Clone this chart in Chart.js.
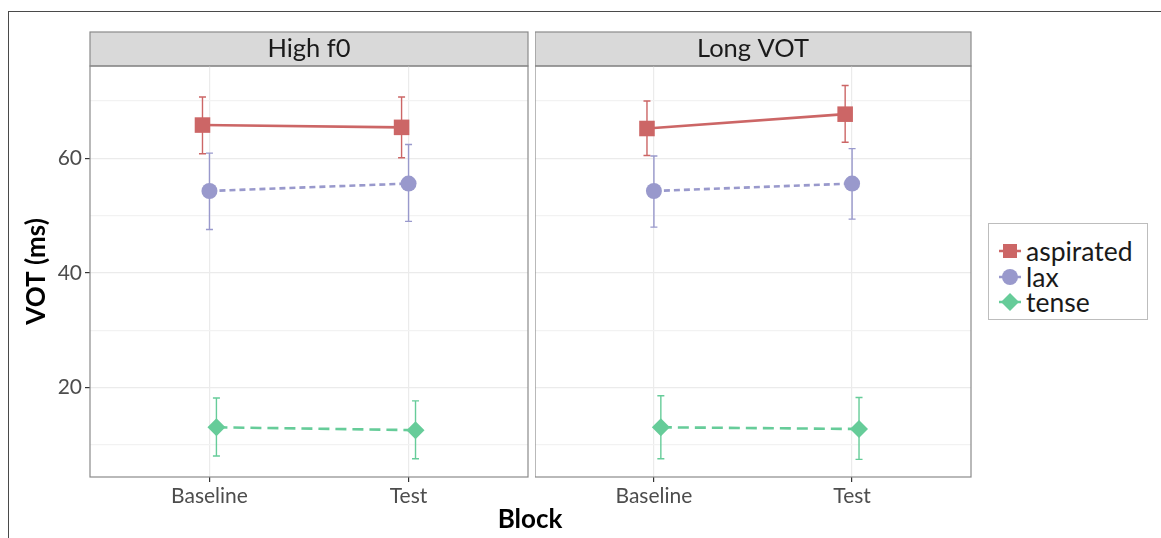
<!DOCTYPE html>
<html>
<head>
<meta charset="utf-8">
<script src="https://cdn.jsdelivr.net/npm/chart.js@4.4.1/dist/chart.umd.min.js"></script>
<style>
    body { margin: 0; background: #fff; width: 1161px; height: 538px; overflow: hidden; position: relative; font-family: Lato, sans-serif; }
    #frame { position: absolute; left: 8px; top: 11px; width: 1180px; height: 560px; border: 1.5px solid #4a4a4a; }
    canvas { position: absolute; top: 0; }
    #panelA { left: 0; }
    #panelB { left: 535px; }
    #xtitle { position: absolute; left: 430px; width: 200px; top: 502px; text-align: center; font-weight: bold; font-size: 26px; color: #000; line-height: 32px; }
    #legend { position: absolute; left: 988px; top: 223px; width: 160px; height: 97px; border: 1px solid #bdbdbd; box-sizing: border-box; }
    .row { position: absolute; left: 0; height: 26px; display: flex; align-items: center; font-size: 26.5px; color: #1a1a1a; }
    .row svg { margin-left: 9px; margin-right: 4px; }
</style>
</head>
<body>
<div id="frame"></div>
<canvas id="panelA" width="530" height="538"></canvas>
<canvas id="panelB" width="438" height="538"></canvas>
<div id="xtitle">Block</div>
<div id="legend"></div>

<script>
const blocks = ["Baseline", "Test"];
const panels = ["High f0", "Long VOT"];
const groups = ["aspirated", "lax", "tense"];
const colors = ["#CC6666", "#9999CC", "#66CC99"];

// y grid lines and which of them get labels
const yGrid = [10, 20, 30, 40, 50, 60, 70];
const yLabels = [20, 40, 60];

// High f0 panel: means and error bar ends
const highF0Aspirated = [65.8, 65.4];
const highF0AspiratedLow = [60.8, 60.1];
const highF0AspiratedHigh = [70.7, 70.7];
const highF0Lax = [54.3, 55.6];
const highF0LaxLow = [47.6, 49.0];
const highF0LaxHigh = [60.9, 62.4];
const highF0Tense = [13.1, 12.6];
const highF0TenseLow = [8.1, 7.6];
const highF0TenseHigh = [18.2, 17.7];

// Long VOT panel
const longVotAspirated = [65.2, 67.7];
const longVotAspiratedLow = [60.5, 62.8];
const longVotAspiratedHigh = [70.0, 72.7];
const longVotLax = [54.3, 55.6];
const longVotLaxLow = [48.0, 49.4];
const longVotLaxHigh = [60.4, 61.7];
const longVotTense = [13.1, 12.8];
const longVotTenseLow = [7.6, 7.5];
const longVotTenseHigh = [18.6, 18.3];

const FONT = "Lato, sans-serif";

// marker / line style per group
const styles = [
    { pointStyle: "rect", radius: 11, dash: [], dodge: -0.035 },
    { pointStyle: "circle", radius: 8, dash: [6, 4], dodge: 0 },
    { pointStyle: "rectRot", radius: 9, dash: [11, 6], dodge: 0.035 }
];

function makeDatasets(values, lows, highs) {
    return groups.map((g, k) => ({
        label: g,
        data: values[k].map((v, i) => ({ x: i + 1 + styles[k].dodge, y: v })),
        errLow: lows[k],
        errHigh: highs[k],
        borderColor: colors[k],
        backgroundColor: colors[k],
        borderWidth: 2.6,
        borderDash: styles[k].dash,
        pointStyle: styles[k].pointStyle,
        pointRadius: styles[k].radius,
        pointHoverRadius: styles[k].radius,
        pointBorderWidth: 0,
        showLine: true,
        fill: false
    }));
}

// strip, panel border and error bars
const panelDeco = {
    id: "panelDeco",
    beforeDraw(chart) {
        const { ctx, chartArea } = chart;
        ctx.save();
        ctx.fillStyle = "#d9d9d9";
        ctx.fillRect(chartArea.left, 32, chartArea.width, chartArea.top - 32);
        ctx.strokeStyle = "#8a8a8a";
        ctx.lineWidth = 1.2;
        ctx.strokeRect(chartArea.left, 32, chartArea.width, chartArea.top - 32);
        ctx.restore();
    },
    beforeDatasetsDraw(chart) {
        const { ctx } = chart;
        const xs = chart.scales.x, ys = chart.scales.y;
        ctx.save();
        ctx.lineWidth = 1.4;
        chart.data.datasets.forEach((ds) => {
            ctx.strokeStyle = ds.borderColor;
            ds.data.forEach((pt, i) => {
                const x = xs.getPixelForValue(pt.x);
                const yl = ys.getPixelForValue(ds.errLow[i]);
                const yh = ys.getPixelForValue(ds.errHigh[i]);
                ctx.beginPath();
                ctx.moveTo(x, yl); ctx.lineTo(x, yh);
                ctx.moveTo(x - 3.5, yl); ctx.lineTo(x + 3.5, yl);
                ctx.moveTo(x - 3.5, yh); ctx.lineTo(x + 3.5, yh);
                ctx.stroke();
            });
        });
        ctx.restore();
    },
    afterDraw(chart) {
        const { ctx, chartArea } = chart;
        ctx.save();
        ctx.strokeStyle = "#8a8a8a";
        ctx.lineWidth = 1.2;
        ctx.strokeRect(chartArea.left, chartArea.top, chartArea.width, chartArea.height);
        ctx.restore();
    }
};

function makePanel(canvasId, title, datasets, showY) {
    const ctx = document.getElementById(canvasId).getContext("2d");
    return new Chart(ctx, {
        type: "line",
        data: { datasets: datasets },
        options: {
            responsive: false,
            animation: false,
            layout: { autoPadding: false, padding: { top: 32, right: 2, left: 0, bottom: 0 } },
            plugins: {
                legend: { display: false },
                tooltip: { enabled: false },
                title: {
                    display: true,
                    text: title,
                    fullSize: false,
                    color: "#1a1a1a",
                    padding: 0,
                    font: { family: FONT, size: 25.5, weight: "normal", lineHeight: 34 / 25.5 }
                }
            },
            scales: {
                x: {
                    type: "linear",
                    min: 0.4,
                    max: 2.6,
                    afterBuildTicks: (s) => { s.ticks = blocks.map((b, i) => ({ value: i + 1 })); },
                    afterFit: (s) => { s.height = 61; },
                    ticks: {
                        callback: (v, i) => blocks[i],
                        color: "#4d4d4d",
                        font: { family: FONT, size: 21 },
                        padding: 2,
                        maxRotation: 0,
                        autoSkip: false
                    },
                    grid: { color: "#ebebeb", lineWidth: 1.2, tickColor: "#333", tickLength: 5 },
                    border: { display: false }
                },
                y: {
                    type: "linear",
                    min: 4.43,
                    max: 76.1,
                    afterBuildTicks: (s) => { s.ticks = yGrid.map((v) => ({ value: v })); },
                    afterFit: (s) => { s.width = showY ? 90 : 0; },
                    ticks: {
                        display: showY,
                        callback: (v) => (yLabels.includes(v) ? String(v) : ""),
                        color: "#4d4d4d",
                        font: { family: FONT, size: 21 },
                        padding: 3
                    },
                    grid: {
                        color: (c) => (c.tick && yLabels.includes(c.tick.value) ? "#ebebeb" : "#f2f2f2"),
                        lineWidth: 1.2,
                        drawTicks: showY,
                        tickLength: 5,
                        tickColor: (c) => (c.tick && yLabels.includes(c.tick.value) ? "#333" : "rgba(0,0,0,0)")
                    },
                    border: { display: false },
                    title: {
                        display: showY,
                        text: "VOT (ms)",
                        color: "#000",
                        font: { family: FONT, size: 26, weight: "bold" },
                        padding: { top: 21, bottom: 0 }
                    }
                }
            }
        },
        plugins: [panelDeco]
    });
}

makePanel("panelA", panels[0], makeDatasets(
    [highF0Aspirated, highF0Lax, highF0Tense],
    [highF0AspiratedLow, highF0LaxLow, highF0TenseLow],
    [highF0AspiratedHigh, highF0LaxHigh, highF0TenseHigh]), true);

makePanel("panelB", panels[1], makeDatasets(
    [longVotAspirated, longVotLax, longVotTense],
    [longVotAspiratedLow, longVotLaxLow, longVotTenseLow],
    [longVotAspiratedHigh, longVotLaxHigh, longVotTenseHigh]), false);

// legend keys
const keyShapes = [
    '<rect x="5" y="4" width="14" height="14"/>',
    '<circle cx="12" cy="11" r="8"/>',
    '<polygon points="12,2 21,11 12,20 3,11"/>'
];
const legend = document.getElementById("legend");
groups.forEach((g, k) => {
    const row = document.createElement("div");
    row.className = "row";
    row.style.top = (14 + k * 25.5) + "px";
    row.innerHTML =
        '<svg width="24" height="22" viewBox="0 0 24 22" fill="' + colors[k] + '">' +
        '<line x1="1" y1="11" x2="23" y2="11" stroke="' + colors[k] + '" stroke-width="2.5"/>' +
        keyShapes[k] + '</svg><span>' + g + '</span>';
    legend.appendChild(row);
});
</script>
</body>
</html>
